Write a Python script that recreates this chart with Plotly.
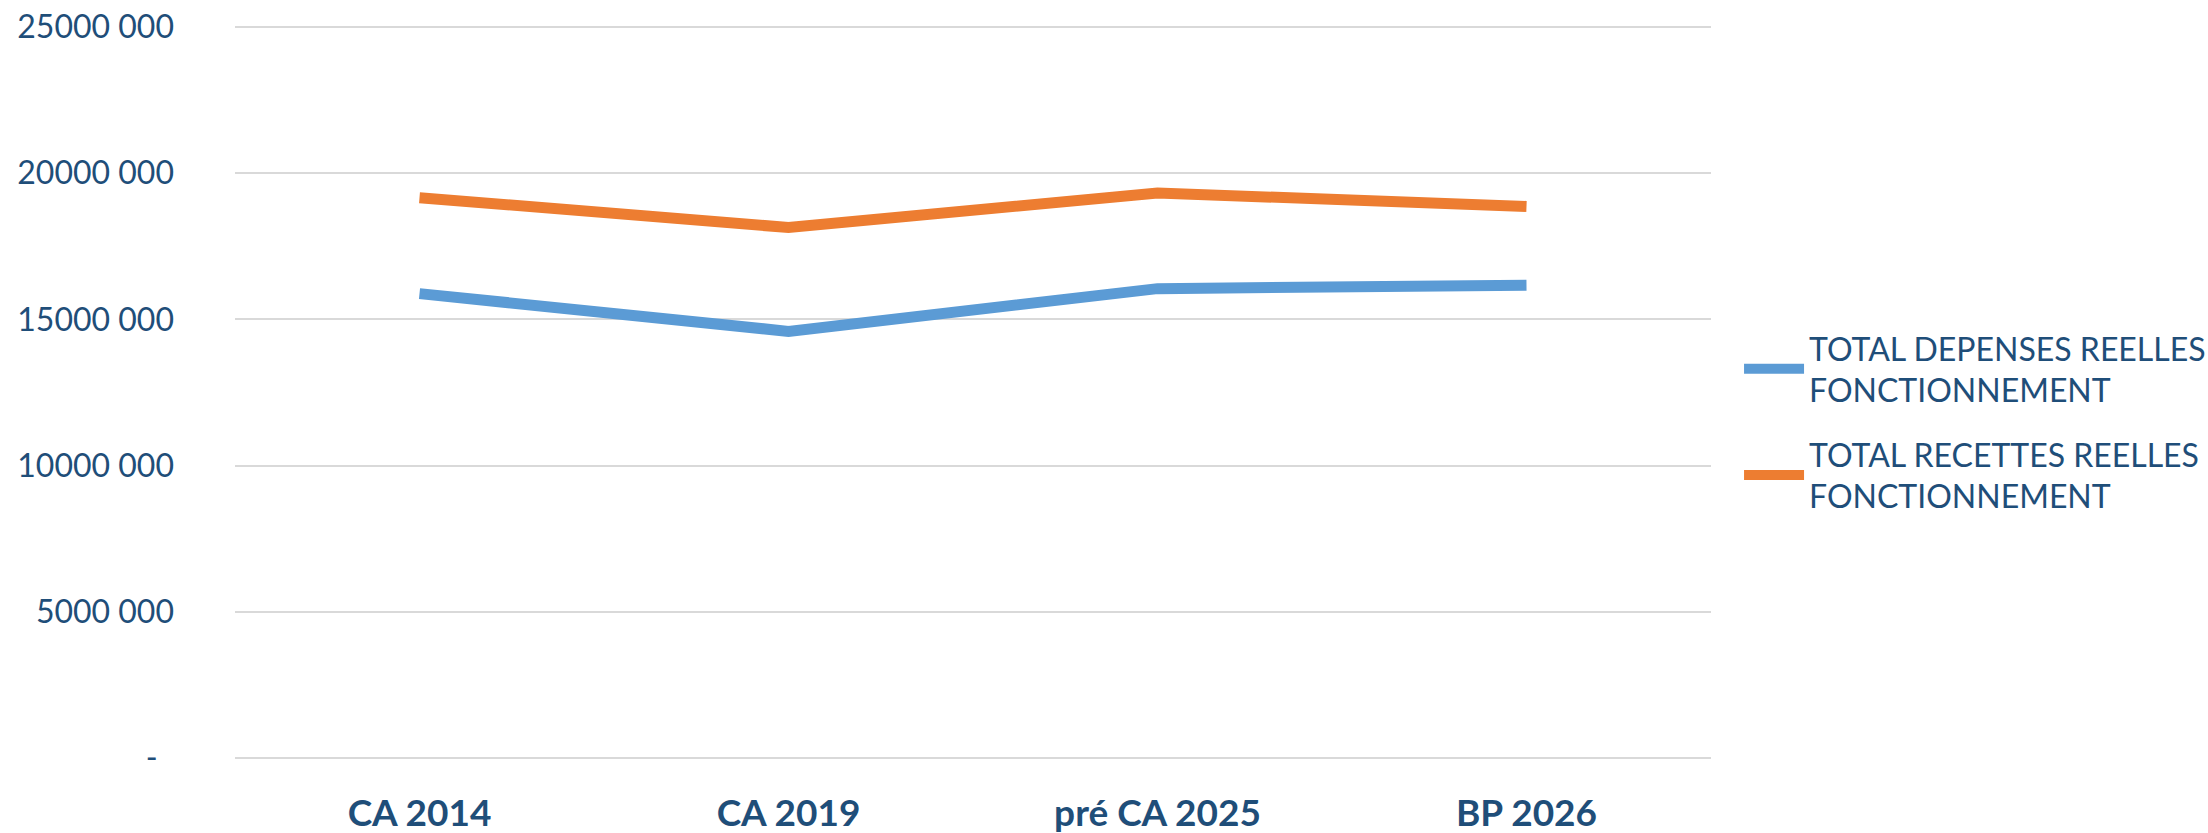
import plotly.graph_objects as go

categories = ["CA 2014", "CA 2019", "pré CA 2025", "BP 2026"]
depenses = [15880000, 14590000, 16050000, 16170000]
recettes = [19160000, 18140000, 19320000, 18860000]
series_names = ["TOTAL DEPENSES REELLES<br>FONCTIONNEMENT", "TOTAL RECETTES REELLES<br>FONCTIONNEMENT"]
tick_vals = [0, 5000000, 10000000, 15000000, 20000000, 25000000]
tick_text = ["-\u00a0\u00a0", "5000 000", "10000 000", "15000 000", "20000 000", "25000 000"]

text_color = "#1F4E79"
font_family = "Lato, Carlito, Calibri, sans-serif"

fig = go.Figure()
fig.add_trace(go.Scatter(x=categories, y=depenses, mode="lines", name=series_names[0],
                         legendgroup="dep",
                         line=dict(color="#5B9BD5", width=11)))
fig.add_trace(go.Scatter(x=categories, y=recettes, mode="lines", name=series_names[1],
                         legendgroup="rec",
                         line=dict(color="#ED7D31", width=11)))

fig.update_layout(
    width=2208, height=833,
    margin=dict(l=235, r=497, t=20.6, b=68.8, autoexpand=False),
    paper_bgcolor="white", plot_bgcolor="white",
    font=dict(family=font_family, color=text_color, size=32),
    showlegend=True,
    legend=dict(x=1.019, xanchor="left", y=0.46, yanchor="middle",
                font=dict(size=32, color=text_color, family=font_family),
                traceorder="grouped", tracegroupgap=20, itemwidth=60),
)
fig.update_xaxes(type="category", range=[-0.5, 3.5], showgrid=False, zeroline=False, showline=False,
                 tickfont=dict(size=37, color=text_color, family=font_family, weight="bold"),
                 ticks="", ticklabelstandoff=24)
fig.update_yaxes(range=[-200000, 25200000], tickvals=tick_vals, ticktext=tick_text,
                 showgrid=True, gridcolor="#D9D9D9", gridwidth=2, zeroline=False, showline=False,
                 tickfont=dict(size=32, color=text_color, family=font_family),
                 ticks="", ticklabelstandoff=60)

fig.write_html("out.html", config={"displayModeBar": False},
               post_script="document.body.style.margin='0';")
